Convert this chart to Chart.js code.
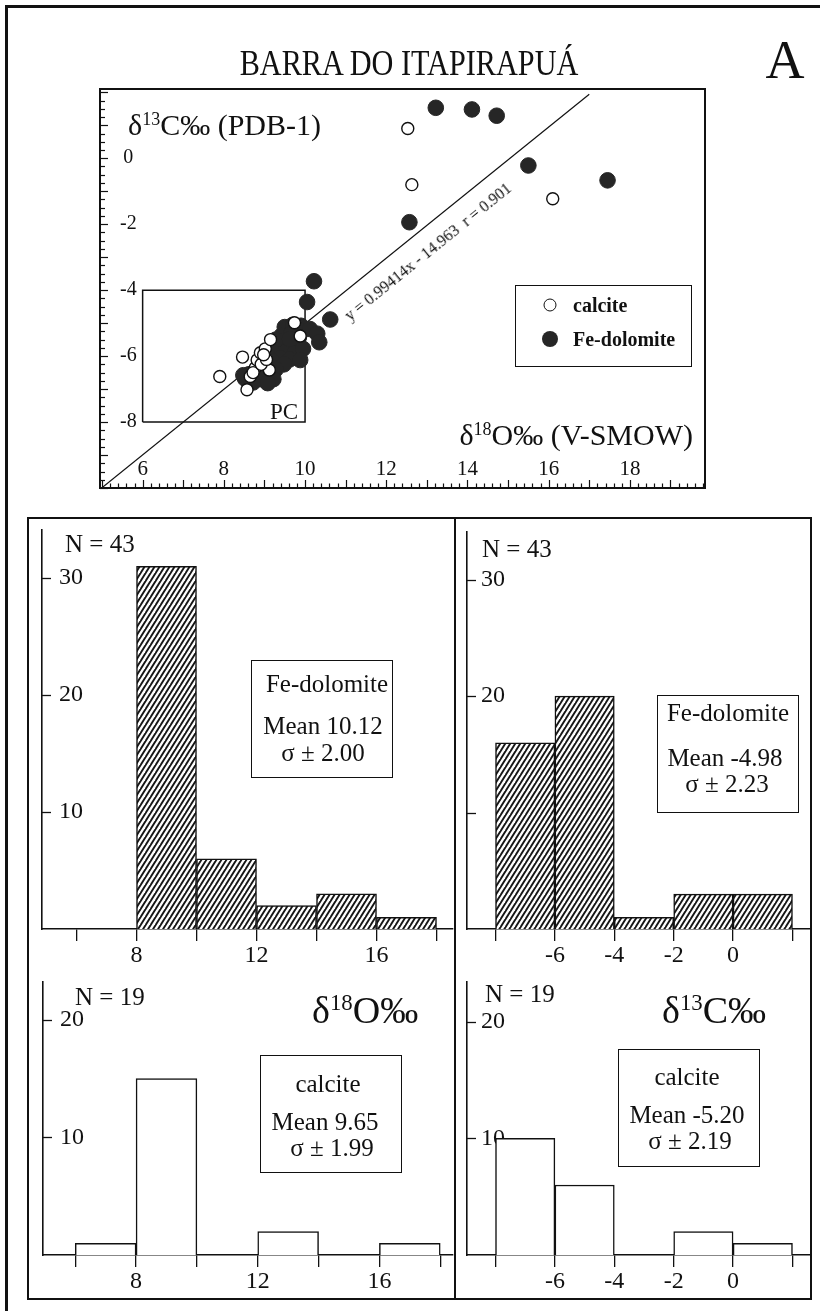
<!DOCTYPE html>
<html>
<head>
<meta charset="utf-8">
<script src="https://cdn.jsdelivr.net/npm/chart.js@4.4.1/dist/chart.umd.min.js"></script>
<style>
html,body{margin:0;padding:0;background:#fff;}
#page{position:relative;width:820px;height:1311px;overflow:hidden;background:#fff;font-family:"Liberation Serif","Times New Roman",serif;color:#111;}
.abs{position:absolute;white-space:pre;line-height:1;}
.c{transform:translate(-50%,-50%);}
.l{transform:translate(0,-50%);}
canvas{position:absolute;}
.bar{position:absolute;background:#111;}
.box{position:absolute;border:1.5px solid #111;box-sizing:border-box;}
.sup{font-size:0.6em;position:relative;top:-0.55em;}
.dot{position:absolute;border-radius:50%;box-sizing:border-box;transform:translate(-50%,-50%);}
</style>
</head>
<body>
<div id="page">
  <!-- outer frame (left & top visible) -->
  <div class="bar" style="left:5px;top:5px;width:3px;height:1306px;"></div>
  <div class="bar" style="left:5px;top:5px;width:815px;height:3px;"></div>
  <!-- lower panel box -->
  <div style="position:absolute;left:27px;top:517px;width:785px;height:783px;border:2px solid #111;box-sizing:border-box;"></div>
  <div class="bar" style="left:454px;top:517px;width:2px;height:783px;"></div>

  <canvas id="scatter"></canvas>
  <canvas id="histTL"></canvas>
  <canvas id="histTR"></canvas>
  <canvas id="histBL"></canvas>
  <canvas id="histBR"></canvas>

  <div class="abs" style="left:409px;top:63px;font-size:36px;transform:translate(-50%,-50%) scaleX(0.84);">BARRA DO ITAPIRAPUÁ</div>
  <div class="abs c" style="left:785px;top:60px;font-size:54px;">A</div>

  <div class="abs l" style="left:128px;top:125px;font-size:30px;">δ<span class="sup">13</span>C‰ (PDB-1)</div>
  <div class="abs" style="right:127px;top:435px;font-size:30px;transform:translateY(-50%);">δ<span class="sup">18</span>O‰ (V-SMOW)</div>
  <div class="abs c" style="left:284px;top:411px;font-size:23px;">PC</div>
  <div class="abs" style="left:428px;top:252px;font-size:16px;transform:translate(-50%,-50%) rotate(-38.9deg);">y = 0.99414x - 14.963  r = 0.901</div>

  <div class="box" style="left:515px;top:285px;width:177px;height:82px;"></div>
  <div class="dot" style="left:549.5px;top:305px;width:13px;height:13px;border:1.5px solid #111;background:#fff;"></div>
  <div class="dot" style="left:550px;top:339px;width:16px;height:16px;background:#262626;"></div>
  <div class="abs l" style="left:573px;top:305px;font-size:20px;font-weight:bold;">calcite</div>
  <div class="abs l" style="left:573px;top:339px;font-size:20px;font-weight:bold;">Fe-dolomite</div>

  <div class="abs l" style="left:65px;top:543px;font-size:25px;">N = 43</div>
  <div class="abs l" style="left:482px;top:548px;font-size:25px;">N = 43</div>
  <div class="abs l" style="left:75px;top:996px;font-size:25px;">N = 19</div>
  <div class="abs l" style="left:485px;top:993px;font-size:25px;">N = 19</div>

  <div class="abs l" style="left:312px;top:1010px;font-size:38px;">δ<span class="sup">18</span>O‰</div>
  <div class="abs l" style="left:662px;top:1010px;font-size:38px;">δ<span class="sup">13</span>C‰</div>

  <div class="box" style="left:251px;top:660px;width:142px;height:118px;"></div>
  <div class="abs c" style="left:327px;top:683px;font-size:25px;">Fe-dolomite</div>
  <div class="abs c" style="left:323px;top:725px;font-size:25px;">Mean 10.12</div>
  <div class="abs c" style="left:323px;top:752px;font-size:25px;">σ ± 2.00</div>

  <div class="box" style="left:657px;top:695px;width:142px;height:118px;"></div>
  <div class="abs c" style="left:728px;top:712px;font-size:25px;">Fe-dolomite</div>
  <div class="abs c" style="left:725px;top:757px;font-size:25px;">Mean -4.98</div>
  <div class="abs c" style="left:727px;top:783px;font-size:25px;">σ ± 2.23</div>

  <div class="box" style="left:260px;top:1055px;width:142px;height:118px;"></div>
  <div class="abs c" style="left:328px;top:1083px;font-size:25px;">calcite</div>
  <div class="abs c" style="left:325px;top:1121px;font-size:25px;">Mean 9.65</div>
  <div class="abs c" style="left:332px;top:1147px;font-size:25px;">σ ± 1.99</div>

  <div class="box" style="left:618px;top:1049px;width:142px;height:118px;"></div>
  <div class="abs c" style="left:687px;top:1076px;font-size:25px;">calcite</div>
  <div class="abs c" style="left:687px;top:1114px;font-size:25px;">Mean -5.20</div>
  <div class="abs c" style="left:690px;top:1140px;font-size:25px;">σ ± 2.19</div>
</div>

<script>
// ===================== DATA =====================
// Scatter: delta18O (V-SMOW) vs delta13C (PDB-1)
const calciteO = [12.53, 12.63, 16.10, 7.90, 8.57, 8.46, 8.65, 8.77, 8.82, 9.12, 8.72, 8.92, 9.05, 8.90, 9.02, 9.15, 9.74, 9.88, 8.98];
const calciteC = [0.90, -0.80, -1.23, -6.62, -7.02, -6.03, -6.62, -6.36, -6.12, -6.42, -6.50, -6.25, -6.10, -5.90, -5.78, -5.50, -4.99, -5.39, -5.96];

const dolomiteO = [13.22, 14.11, 14.72, 12.57, 15.50, 17.45, 10.22, 10.05, 10.62,
  9.50, 9.70, 9.90, 10.12, 10.30, 10.35, 9.42, 9.65, 9.85, 9.58, 9.82, 9.32, 9.50, 9.75, 9.95, 9.28, 9.18, 9.62,
  9.38, 9.62, 9.88, 9.18, 9.48, 8.98, 9.28, 8.82, 9.08, 8.62, 8.92, 8.52, 9.22, 8.72, 9.08, 8.48];
const dolomiteC = [1.53, 1.48, 1.29, -1.94, -0.22, -0.67, -3.73, -4.36, -4.89,
  -5.12, -5.05, -5.08, -5.18, -5.32, -5.58, -5.38, -5.32, -5.42, -5.62, -5.68, -5.72, -5.88, -5.90, -5.78, -5.50, -5.85, -5.48,
  -6.05, -6.10, -6.12, -6.15, -6.25, -6.30, -6.40, -6.45, -6.55, -6.55, -6.70, -6.68, -6.70, -6.80, -6.82, -6.58];

// regression line y = 0.99414x - 14.963 (r = 0.901), end points
const regressionO = [4.95, 17.0];
const regressionC = [-10.04, 1.94];

// "PC" field
const pcBoxO = [6, 6, 10, 10, 6];
const pcBoxC = [-8, -4, -4, -8, -8];

const scatterXTicks = [6, 8, 10, 12, 14, 16, 18];
const scatterYTicks = [-8, -6, -4, -2, 0];

// Histograms (bin centres, 2 per mil bins)
const oBinCenters = [7, 9, 11, 13, 15, 17];
const dolomiteOCounts = [0, 31, 6, 2, 3, 1];
const calciteOCounts = [1, 15, 0, 2, 0, 1];

const cBinCenters = [-7, -5, -3, -1, 1];
const dolomiteCCounts = [16, 20, 1, 3, 3];
const calciteCCounts = [10, 6, 0, 2, 1];

const histOTicks = [6, 8, 10, 12, 14, 16, 18];
const histOLabels = [8, 12, 16];
const histCTicks = [-8, -6, -4, -2, 0, 2];
const histCLabels = [-6, -4, -2, 0];

const countTicksTop = [10, 20, 30];
const countLabelsTL = [10, 20, 30];
const countLabelsTR = [20, 30];
const countTicksBottom = [10, 20];
const countLabelsBottom = [10, 20];

// ===================== DRAWING =====================
const FONT = "'Liberation Serif', 'Times New Roman', serif";
const INK = '#111';

function zip(a, b) { return a.map((v, i) => ({x: v, y: b[i]})); }

function noPad(s) { s.paddingTop = 0; s.paddingBottom = 0; s.paddingLeft = 0; s.paddingRight = 0; }

function placeCanvas(id, area, m, xh) {
  const cv = document.getElementById(id);
  const w = area.right - area.left + 2 * m;
  const h = area.bottom - area.top + 2 * m + xh;
  cv.width = w; cv.height = h;
  cv.style.left = (area.left - m) + 'px';
  cv.style.top = (area.top - m) + 'px';
  cv.style.width = w + 'px';
  cv.style.height = h + 'px';
  return cv;
}

function hatchPattern() {
  const c = document.createElement('canvas');
  c.width = 5; c.height = 8;
  const g = c.getContext('2d');
  g.fillStyle = '#fff';
  g.fillRect(0, 0, 5, 8);
  g.strokeStyle = '#161616';
  g.lineWidth = 1.9;
  [0, 40, 80].forEach(k => {
    g.beginPath();
    g.moveTo((k + 10) / 8, -2);
    g.lineTo((k - 50) / 8, 10);
    g.stroke();
  });
  return g.createPattern(c, 'repeat');
}

const scatterFrame = {
  id: 'scatterFrame',
  afterDraw(chart) {
    const {ctx, chartArea: a, scales: {x, y}} = chart;
    ctx.save();
    ctx.strokeStyle = INK;
    ctx.lineWidth = 1.2;
    for (let i = Math.ceil(x.min * 5); i <= Math.floor(x.max * 5); i++) {
      const major = (i % 5 === 0);
      const px = Math.round(x.getPixelForValue(i / 5)) + 0.5;
      ctx.beginPath(); ctx.moveTo(px, a.bottom); ctx.lineTo(px, a.bottom - (major ? 8 : 4.5)); ctx.stroke();
    }
    for (let i = Math.ceil(y.min * 4); i <= Math.floor(y.max * 4); i++) {
      const major = (i % 4 === 0);
      const py = Math.round(y.getPixelForValue(i / 4)) + 0.5;
      ctx.beginPath(); ctx.moveTo(a.left, py); ctx.lineTo(a.left + (major ? 8 : 5), py); ctx.stroke();
    }
    ctx.lineWidth = 2;
    ctx.strokeRect(a.left, a.top, a.right - a.left, a.bottom - a.top);
    ctx.restore();
  }
};

const innerYTicks = {
  id: 'innerYTicks',
  afterDraw(chart) {
    const {ctx, chartArea: a, scales: {y}} = chart;
    ctx.save();
    ctx.strokeStyle = INK;
    ctx.lineWidth = 1.3;
    y.ticks.forEach(t => {
      const py = Math.round(y.getPixelForValue(t.value)) + 0.5;
      ctx.beginPath(); ctx.moveTo(a.left, py); ctx.lineTo(a.left + 9, py); ctx.stroke();
    });
    ctx.restore();
  }
};

// ---- scatter ----
(function () {
  const m = 10;
  const cv = placeCanvas('scatter', {left: 100, top: 89, right: 705, bottom: 488}, m, 0);
  new Chart(cv, {
    type: 'scatter',
    data: {
      datasets: [
        {label: 'calcite', data: zip(calciteO, calciteC), pointRadius: 6, pointBackgroundColor: '#fff',
         pointBorderColor: INK, pointBorderWidth: 1.4},
        {label: 'Fe-dolomite', data: zip(dolomiteO, dolomiteC), pointRadius: 7.8, pointBackgroundColor: '#262626',
         pointBorderColor: '#262626', pointBorderWidth: 1},
        {label: 'regression', data: zip(regressionO, regressionC), showLine: true, pointRadius: 0,
         borderColor: INK, borderWidth: 1.2},
        {label: 'PC', data: zip(pcBoxO, pcBoxC), showLine: true, pointRadius: 0,
         borderColor: INK, borderWidth: 1.5}
      ]
    },
    options: {
      responsive: false, animation: false, devicePixelRatio: 1,
      layout: {autoPadding: false, padding: {left: m, top: m, right: m, bottom: m}},
      plugins: {legend: {display: false}, tooltip: {enabled: false}},
      scales: {
        x: {
          type: 'linear', min: 4.95, max: 19.85,
          grid: {display: false, drawTicks: false}, border: {display: false},
          ticks: {mirror: true, padding: 6, autoSkip: false, maxRotation: 0, color: INK,
                  font: {family: FONT, size: 21, lineHeight: 1.2}},
          afterBuildTicks: s => { s.ticks = scatterXTicks.map(v => ({value: v})); },
          afterFit: s => { s.height = 0; noPad(s); }
        },
        y: {
          type: 'linear', min: -10, max: 2.1,
          grid: {display: false, drawTicks: false}, border: {display: false},
          ticks: {mirror: true, padding: 20, crossAlign: 'center', color: INK,
                  font: {family: FONT, size: 20, lineHeight: 1.2}},
          afterBuildTicks: s => { s.ticks = scatterYTicks.map(v => ({value: v})); },
          afterFit: s => { s.width = 0; noPad(s); }
        }
      }
    },
    plugins: [scatterFrame]
  });
})();

// ---- histograms ----
function histChart(id, area, cfg) {
  const m = 12, xh = 40;
  const cv = placeCanvas(id, area, m, xh);
  return new Chart(cv, {
    type: 'bar',
    data: {
      datasets: [{
        label: cfg.label,
        data: zip(cfg.centers, cfg.counts),
        backgroundColor: cfg.fill,
        borderColor: INK, borderWidth: 1.5,
        categoryPercentage: 1, barPercentage: 1
      }]
    },
    options: {
      responsive: false, animation: false, devicePixelRatio: 1,
      layout: {autoPadding: false, padding: {left: m, top: m, right: m, bottom: m}},
      plugins: {legend: {display: false}, tooltip: {enabled: false}},
      scales: {
        x: {
          type: 'linear', min: cfg.xMin, max: cfg.xMax, offset: false,
          grid: {display: true, offset: false, drawOnChartArea: false, drawTicks: true, tickLength: 12,
                 color: INK, tickColor: INK, tickWidth: 1.3, lineWidth: 1.3},
          border: {display: true, color: INK, width: 1.6},
          ticks: {autoSkip: false, maxRotation: 0, padding: 0, color: INK,
                  font: {family: FONT, size: 24, lineHeight: 1.2},
                  callback: v => cfg.xLabels.includes(v) ? String(v) : ''},
          afterBuildTicks: s => { s.ticks = cfg.xTicks.map(v => ({value: v})); },
          afterFit: s => { s.height = xh; noPad(s); }
        },
        y: {
          type: 'linear', min: 0, max: cfg.yMax,
          grid: {display: false, drawTicks: false},
          border: {display: true, color: INK, width: 1.6},
          ticks: {mirror: true, padding: cfg.yPad, color: INK,
                  font: {family: FONT, size: 24, lineHeight: 1.2},
                  callback: v => cfg.yLabels.includes(v) ? String(v) : ''},
          afterBuildTicks: s => { s.ticks = cfg.yTicks.map(v => ({value: v})); },
          afterFit: s => { s.width = 0; noPad(s); }
        }
      }
    },
    plugins: [innerYTicks]
  });
}

const hatch = hatchPattern();

histChart('histTL', {left: 42, top: 530, right: 453, bottom: 929}, {
  label: 'Fe-dolomite δ18O', centers: oBinCenters, counts: dolomiteOCounts, fill: hatch,
  xMin: 4.85, xMax: 18.55, xTicks: histOTicks, xLabels: histOLabels,
  yMax: 34.1, yTicks: countTicksTop, yLabels: countLabelsTL, yPad: 17
});
histChart('histTR', {left: 467, top: 532, right: 810, bottom: 929}, {
  label: 'Fe-dolomite δ13C', centers: cBinCenters, counts: dolomiteCCounts, fill: hatch,
  xMin: -8.96, xMax: 2.59, xTicks: histCTicks, xLabels: histCLabels,
  yMax: 34.1, yTicks: countTicksTop, yLabels: countLabelsTR, yPad: 14
});
histChart('histBL', {left: 43, top: 982, right: 453, bottom: 1255}, {
  label: 'calcite δ18O', centers: oBinCenters, counts: calciteOCounts, fill: '#fff',
  xMin: 4.94, xMax: 18.42, xTicks: histOTicks, xLabels: histOLabels,
  yMax: 23.2, yTicks: countTicksBottom, yLabels: countLabelsBottom, yPad: 17
});
histChart('histBR', {left: 467, top: 982, right: 810, bottom: 1255}, {
  label: 'calcite δ13C', centers: cBinCenters, counts: calciteCCounts, fill: '#fff',
  xMin: -8.96, xMax: 2.59, xTicks: histCTicks, xLabels: histCLabels,
  yMax: 23.4, yTicks: countTicksBottom, yLabels: countLabelsBottom, yPad: 14
});
</script>
</body>
</html>
